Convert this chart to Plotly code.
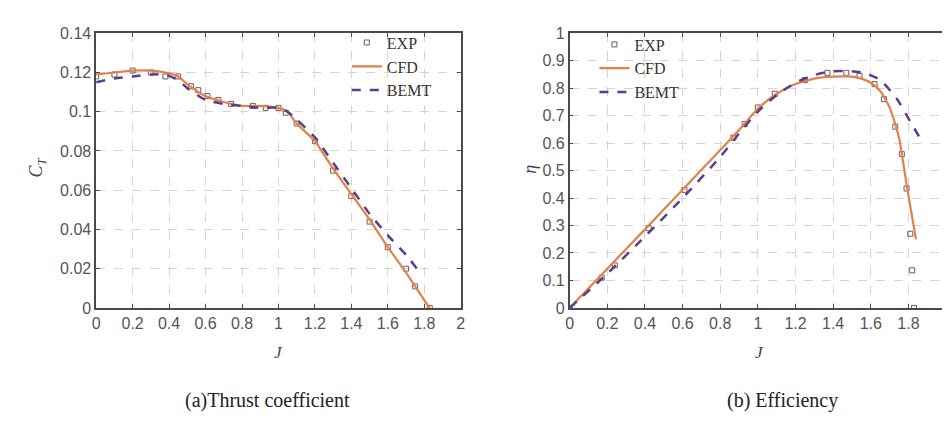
import plotly.graph_objects as go

# ---------------- data ----------------
j_ct_exp = [0.0, 0.1, 0.2, 0.3, 0.38, 0.45, 0.52, 0.56, 0.61, 0.67, 0.74, 0.86, 0.93, 1.0, 1.04, 1.1, 1.2, 1.3, 1.4, 1.5, 1.6, 1.7, 1.75, 1.83]
ct_exp = [0.118, 0.119, 0.121, 0.120, 0.118, 0.118, 0.113, 0.111, 0.108, 0.106, 0.104, 0.103, 0.102, 0.102, 0.0995, 0.094, 0.085, 0.070, 0.057, 0.044, 0.031, 0.020, 0.011, 0.0]

j_ct_cfd = [0.0, 0.1, 0.2, 0.3, 0.38, 0.45, 0.5, 0.6, 0.7, 0.8, 0.9, 1.0, 1.05, 1.1, 1.2, 1.3, 1.4, 1.5, 1.6, 1.7, 1.8, 1.83]
ct_cfd = [0.119, 0.120, 0.121, 0.121, 0.120, 0.118, 0.114, 0.108, 0.105, 0.103, 0.103, 0.102, 0.100, 0.094, 0.085, 0.071, 0.058, 0.045, 0.031, 0.018, 0.004, 0.0]

j_ct_bemt = [0.0, 0.1, 0.2, 0.3, 0.38, 0.45, 0.5, 0.6, 0.7, 0.8, 0.9, 1.0, 1.05, 1.1, 1.2, 1.3, 1.4, 1.5, 1.6, 1.7, 1.76]
ct_bemt = [0.115, 0.117, 0.118, 0.119, 0.119, 0.116, 0.112, 0.106, 0.104, 0.103, 0.102, 0.102, 0.100, 0.096, 0.087, 0.074, 0.061, 0.048, 0.037, 0.027, 0.020]

j_eta_exp = [0.0, 0.17, 0.24, 0.42, 0.61, 0.87, 0.93, 1.0, 1.09, 1.25, 1.37, 1.47, 1.54, 1.62, 1.67, 1.73, 1.765, 1.79, 1.81, 1.82, 1.83]
eta_exp = [0.0, 0.11, 0.155, 0.29, 0.43, 0.62, 0.67, 0.73, 0.78, 0.83, 0.856, 0.856, 0.845, 0.815, 0.76, 0.66, 0.56, 0.435, 0.27, 0.137, 0.0]

j_eta_cfd = [0.0, 0.2, 0.4, 0.6, 0.8, 0.9, 1.0, 1.1, 1.2, 1.3, 1.4, 1.5, 1.55, 1.6, 1.65, 1.7, 1.75, 1.79, 1.84]
eta_cfd = [0.0, 0.143, 0.286, 0.43, 0.575, 0.648, 0.725, 0.78, 0.815, 0.835, 0.842, 0.842, 0.835, 0.82, 0.79, 0.73, 0.62, 0.45, 0.25]

j_eta_bemt = [0.0, 0.2, 0.4, 0.6, 0.8, 0.9, 1.0, 1.1, 1.2, 1.3, 1.4, 1.5, 1.57, 1.65, 1.74, 1.8, 1.86]
eta_bemt = [0.0, 0.125, 0.26, 0.40, 0.55, 0.635, 0.715, 0.775, 0.82, 0.848, 0.862, 0.862, 0.855, 0.83, 0.76, 0.69, 0.62]

j_ticks = [0, 0.2, 0.4, 0.6, 0.8, 1, 1.2, 1.4, 1.6, 1.8, 2]
j_labels = ["0", "0.2", "0.4", "0.6", "0.8", "1", "1.2", "1.4", "1.6", "1.8", "2"]
ct_ticks = [0, 0.02, 0.04, 0.06, 0.08, 0.1, 0.12, 0.14]
ct_labels = ["0", "0.02", "0.04", "0.06", "0.08", "0.1", "0.12", "0.14"]
eta_ticks = [0, 0.1, 0.2, 0.3, 0.4, 0.5, 0.6, 0.7, 0.8, 0.9, 1]
eta_labels = ["0", "0.1", "0.2", "0.3", "0.4", "0.5", "0.6", "0.7", "0.8", "0.9", "1"]

caption_a = "(a)Thrust coefficient"
caption_b = "(b) Efficiency"

# ---------------- styles ----------------
CFD_COLOR = "#E0824A"
BEMT_COLOR = "#5A3E8A"
EXP_COLOR = "#7A5858"
AXIS_COLOR = "#4a4a4a"
GRID_COLOR = "#d4d4d4"
SERIF = "Liberation Serif, Times New Roman, serif"
SANS = "Liberation Sans, Arial, sans-serif"

fig = go.Figure()

def add_set(jx_exp, y_exp, jx_cfd, y_cfd, jx_b, y_b, xa, ya, leg):
    fig.add_trace(go.Scatter(x=jx_exp, y=y_exp, mode="markers", name="EXP",
                             marker=dict(symbol="square-open", size=5, color=EXP_COLOR, line=dict(width=1)),
                             xaxis=xa, yaxis=ya, legend=leg))
    fig.add_trace(go.Scatter(x=jx_cfd, y=y_cfd, mode="lines", name="CFD",
                             line=dict(color=CFD_COLOR, width=2.2, shape="spline", smoothing=0.6),
                             xaxis=xa, yaxis=ya, legend=leg))
    fig.add_trace(go.Scatter(x=jx_b, y=y_b, mode="lines", name="BEMT",
                             line=dict(color=BEMT_COLOR, width=2.5, dash="dash", shape="spline", smoothing=0.6),
                             xaxis=xa, yaxis=ya, legend=leg))

add_set(j_ct_exp, ct_exp, j_ct_cfd, ct_cfd, j_ct_bemt, ct_bemt, "x", "y", "legend")
add_set(j_eta_exp, eta_exp, j_eta_cfd, eta_cfd, j_eta_bemt, eta_bemt, "x2", "y2", "legend2")

common_axis = dict(
    showline=True, linecolor=AXIS_COLOR, linewidth=1.6, mirror="ticks",
    ticks="inside", ticklen=4, tickcolor=AXIS_COLOR, tickwidth=1.2,
    showgrid=True, gridcolor=GRID_COLOR, griddash="dash", gridwidth=1,
    zeroline=False, tickfont=dict(family=SANS, size=16, color="#555555"),
)

y_dom = [1 - 304 / 428, 1 - 18 / 428]

fig.update_layout(
    width=950, height=428,
    margin=dict(l=0, r=0, t=0, b=0),
    paper_bgcolor="white", plot_bgcolor="white",
    xaxis=dict(domain=[85 / 950, 453 / 950], range=[0, 2], tickvals=j_ticks, ticktext=j_labels,
               anchor="y", **common_axis),
    yaxis=dict(domain=y_dom, range=[0, 0.14], tickvals=ct_ticks, ticktext=ct_labels,
               anchor="x", **common_axis),
    xaxis2=dict(domain=[563 / 950, 943 / 950], range=[0, 2], tickvals=j_ticks, ticktext=j_labels,
                anchor="y2", **common_axis),
    yaxis2=dict(domain=y_dom, range=[0, 1], tickvals=eta_ticks, ticktext=eta_labels,
                anchor="x2", **common_axis),
    legend=dict(x=338 / 950, y=1 - 10 / 428, xanchor="left", yanchor="top",
                bgcolor="rgba(0,0,0,0)", font=dict(family=SERIF, size=16, color="#333333"),
                itemwidth=30, tracegroupgap=0),
    legend2=dict(x=588 / 950, y=1 - 12 / 428, xanchor="left", yanchor="top",
                 bgcolor="rgba(0,0,0,0)", font=dict(family=SERIF, size=16, color="#333333"),
                 itemwidth=30, tracegroupgap=0),
    showlegend=True,
)

annots = [
    dict(text="<i>C<sub>T</sub></i>", x=26 / 950, y=1 - 158 / 428, textangle=-90,
         font=dict(family=SERIF, size=18, color="#444444")),
    dict(text="<i>J</i>", x=269 / 950, y=1 - 350 / 428,
         font=dict(family=SERIF, size=17, color="#444444")),
    dict(text="<i>η</i>", x=523 / 950, y=1 - 160 / 428, textangle=-90,
         font=dict(family=SERIF, size=18, color="#444444")),
    dict(text="<i>J</i>", x=755 / 950, y=1 - 350 / 428,
         font=dict(family=SERIF, size=17, color="#444444")),
    dict(text=caption_a, x=258 / 950, y=1 - 400 / 428,
         font=dict(family=SERIF, size=20, color="#222222")),
    dict(text=caption_b, x=778 / 950, y=1 - 400 / 428,
         font=dict(family=SERIF, size=20, color="#222222")),
]
for a in annots:
    fig.add_annotation(xref="paper", yref="paper", showarrow=False,
                       xanchor="center", yanchor="middle", **a)

fig.write_html("out.html")
